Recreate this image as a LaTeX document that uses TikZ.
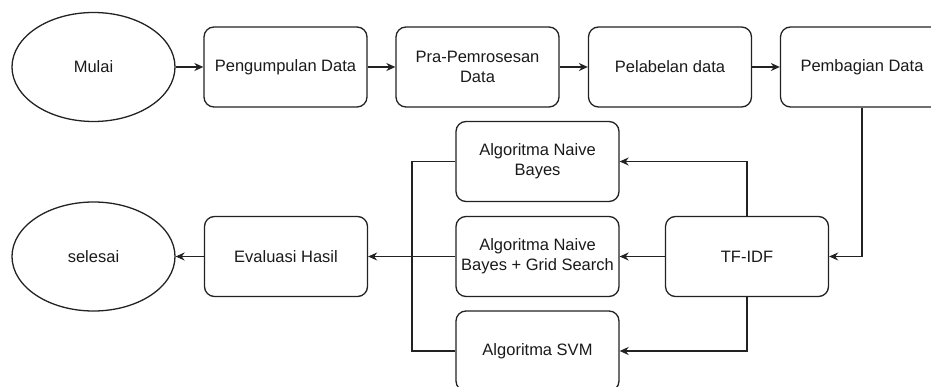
\documentclass[tikz,border=0pt]{standalone}
\usepackage{fontspec}
\setmainfont{Liberation Sans}
\usetikzlibrary{arrows.meta,shapes.geometric}
\definecolor{txt}{HTML}{1A1A1A}
\definecolor{ln}{HTML}{222222}
\begin{document}
\begin{tikzpicture}[x=1pt,y=-1pt,
  every node/.style={font=\fontsize{16.5}{20}\selectfont, text=txt},
  proc/.style={draw=ln, line width=1.3pt, rounded corners=10pt, minimum width=163pt, minimum height=80pt, inner sep=0pt, align=center},
  term/.style={draw=ln, line width=1.3pt, ellipse, minimum width=163pt, minimum height=109pt, inner sep=0pt},
  conn/.style={draw=ln, line width=1.3pt},
  arr/.style={conn, -{Stealth[length=9pt,width=8pt]}}]
\useasboundingbox (0,0) rectangle (931,387);
\node[term] (mulai) at (93.5,67) {Mulai};
\node[proc] (kumpul) at (285.5,67) {Pengumpulan Data};
\node[proc] (pra) at (477.5,67) {Pra-Pemrosesan\\Data};
\node[proc] (label) at (670,67) {Pelabelan data};
\node[proc] (bagi) at (862,67) {Pembagian Data};
\node[proc] (tfidf) at (747,256.5) {TF-IDF};
\node[proc] (nb) at (537.5,161.5) {Algoritma Naive\\Bayes};
\node[proc] (grid) at (537.5,256.5) {Algoritma Naive\\Bayes + Grid Search};
\node[proc] (svm) at (537.5,351) {Algoritma SVM};
\node[proc] (eval) at (286,256.5) {Evaluasi Hasil};
\node[term] (selesai) at (93.5,256.5) {selesai};
\coordinate (lx) at (412,256.5);
\draw[arr] (mulai) -- (kumpul);
\draw[arr] (kumpul) -- (pra);
\draw[arr] (pra) -- (label);
\draw[arr] (label) -- (bagi);
\draw[arr] (bagi.south) |- (tfidf.east);
\draw[arr] (tfidf.north) |- (nb.east);
\draw[arr] (tfidf) -- (grid);
\draw[arr] (tfidf.south) |- (svm.east);
\draw[conn] (nb.west) -| (lx) |- (svm.west);
\draw[arr] (grid) -- (eval);
\draw[arr] (eval) -- (selesai);
\end{tikzpicture}
\end{document}
